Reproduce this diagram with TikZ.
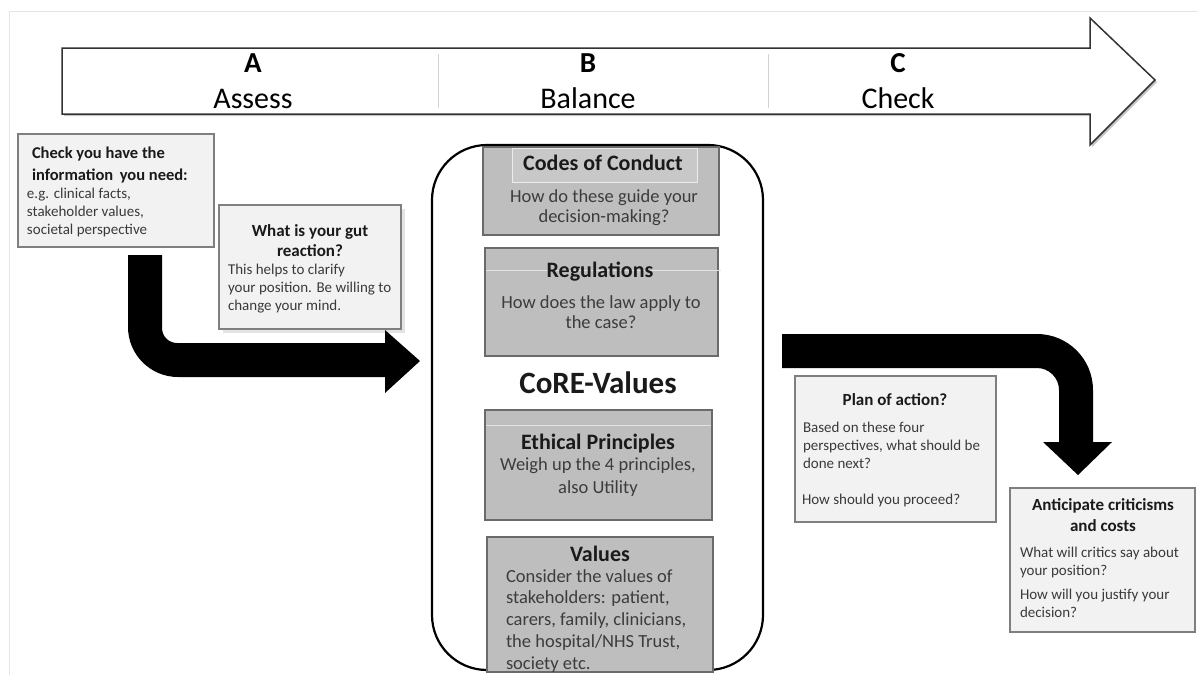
\documentclass[tikz,border=0pt]{standalone}
\usepackage{fontspec}
\setmainfont{Carlito}
\usetikzlibrary{fit}
\definecolor{lightfill}{HTML}{F2F2F2}
\definecolor{lightborder}{HTML}{7F7F7F}
\definecolor{darkfill}{HTML}{BEBEBE}
\definecolor{darkborder}{HTML}{6A6A6A}
\definecolor{headtext}{HTML}{1A1A1A}
\definecolor{bodytext}{HTML}{3A3A3A}
\newcommand\myfs[2]{\fontsize{#1}{#2}\selectfont}
\begin{document}
\begin{tikzpicture}[x=1pt,y=-1pt,
  lightbox/.style={draw=lightborder, fill=lightfill, line width=1.4pt, inner sep=0pt},
  darkbox/.style={draw=darkborder, fill=darkfill, line width=1.4pt, inner sep=0pt},
  txt/.style={inner sep=0pt, outer sep=0pt},
  smallhead/.style={txt, text=headtext, font=\bfseries\myfs{16.5}{22}},
  smallbody/.style={txt, text=bodytext, font=\myfs{15}{18}},
  bighead/.style={txt, text=headtext, font=\bfseries\myfs{22}{24}},
  bigbody/.style={txt, text=headtext!85, font=\myfs{18.5}{20}},
  toplabel/.style={txt, text=black, font=\myfs{30}{32}},
  blackarrow/.style={fill=black}
]
\useasboundingbox (0,0) rectangle (1198,675);
\fill[white] (0,0) rectangle (1198,675);
\draw[gray!20, line width=1pt] (9,675) -- (9,11) -- (1198,11);

% ---- top process arrow ----
\begin{scope}[shift={(2,2)}]
  \fill[gray!45] (62,48) -- (1090,48) -- (1090,18) -- (1155,80) -- (1090,145) -- (1090,114) -- (62,114) -- cycle;
\end{scope}
\draw[fill=white, draw=black!80, line width=1.5pt, line join=miter]
  (62,48) -- (1090,48) -- (1090,18) -- (1155,80) -- (1090,145) -- (1090,114) -- (62,114) -- cycle;
\draw[gray!35, line width=0.8pt] (438,54) -- (438,108);
\draw[gray!35, line width=0.8pt] (768,54) -- (768,108);
\node[toplabel, anchor=base, font=\bfseries\myfs{29}{30}] (lA) at (253,72) {A};
\node[toplabel, anchor=base] (lAssess) at (253,108) {Assess};
\node[toplabel, anchor=base, font=\bfseries\myfs{29}{30}] (lB) at (588,72) {B};
\node[toplabel, anchor=base] (lBalance) at (588,108) {Balance};
\node[toplabel, anchor=base, font=\bfseries\myfs{29}{30}] (lC) at (898,72) {C};
\node[toplabel, anchor=base] (lCheck) at (898,108) {Check};

% ---- Assess boxes ----
\node[lightbox, fit={(18,134)(214,247)}] (info) {};
\node[smallhead, anchor=base west, align=left] (infoH) at (32,180) {Check you have the\\information\, you need:};
\node[smallbody, anchor=base west, align=left] (infoB) at (27,234) {e.g. clinical facts,\\stakeholder values,\\societal perspective};

\fill[gray!22] (223,209) rectangle (405,333);
\node[lightbox, fit={(219,205)(401,329)}] (gut) {};
\node[smallhead, anchor=base, align=center, font=\bfseries\myfs{17}{20}] (gutH) at (310,256) {What is your gut\\reaction?};
\node[smallbody, anchor=base west, align=left] (gutB) at (228,310) {This helps to clarify\\your position. Be willing to\\change your mind.};

% left black arrow
\fill[blackarrow] (128,255) -- (162,255) -- (162,328)
  .. controls (162,336.3) and (168.7,343) .. (177,343)
  -- (385,343) -- (385,330) -- (420,361) -- (385,393) -- (385,377) -- (178,377)
  .. controls (150.4,377) and (128,354.6) .. (128,327) -- cycle;

% ---- Balance container ----
\node[draw=black, line width=2.2pt, rounded corners=55pt, inner sep=0pt, fit={(432,145)(763,670)}] (container) {};

\node[darkbox, fit={(483,147)(719,235)}] (codes) {};
\draw[white!70!darkfill, fill=white!15!darkfill, line width=0.8pt] (512,148) rectangle (697,182);
\node[bighead, anchor=base] (codesH) at (603,170) {Codes of Conduct};
\node[bigbody, anchor=base, align=center] (codesB) at (604,222) {How do these guide your\\decision-making?};

\node[darkbox, fit={(485,248)(718,356)}] (regs) {};
\draw[white!55!darkfill, line width=0.8pt] (486,270) -- (721,270);
\node[bighead, anchor=base] (regsH) at (600,277) {Regulations};
\node[bigbody, anchor=base, align=center] (regsB) at (601,328) {How does the law apply to\\the case?};

\node[txt, anchor=base, text=headtext, font=\bfseries\myfs{31}{32}] (core) at (598,393) {CoRE-Values};

\node[darkbox, fit={(485,410)(712,520)}] (ethics) {};
\draw[white!55!darkfill, line width=0.8pt] (486,425) -- (711,425);
\node[bighead, anchor=base] (ethicsH) at (598,449) {Ethical Principles};
\node[bigbody, anchor=base, align=center, font=\myfs{18.5}{23}] (ethicsB) at (598,493) {Weigh up the 4 principles,\\also Utility};

\node[darkbox, fit={(487,537)(713,672)}] (vals) {};
\node[bighead, anchor=base] (valsH) at (600,561) {Values};
\node[bigbody, anchor=base west, align=left, font=\myfs{18.5}{21.7}] (valsB) at (506,669) {Consider the values of\\stakeholders: patient,\\carers, family, clinicians,\\the hospital/NHS Trust,\\society etc.};

% ---- Check side ----
\fill[blackarrow] (782,334) -- (1037,334)
  .. controls (1067.9,334) and (1093,359.1) .. (1093,390)
  -- (1093,442) -- (1112,442) -- (1078,475) -- (1043,442) -- (1059,442) -- (1059,390)
  .. controls (1059,377.9) and (1049.1,368) .. (1037,368)
  -- (782,368) -- cycle;

\node[lightbox, fit={(795,376)(996,522)}] (plan) {};
\node[smallhead, anchor=base, font=\bfseries\myfs{17}{20}] (planH) at (895,405) {Plan of action?};
\node[smallbody, anchor=base west, align=left] (planB) at (803,468) {Based on these four\\perspectives, what should be\\done next?};
\node[smallbody, anchor=base west] (planB2) at (802,504) {How should you proceed?};

\node[lightbox, fit={(1010,488)(1195,632)}] (crit) {};
\node[smallhead, anchor=base, align=center, font=\bfseries\myfs{17}{21}] (critH) at (1103,531) {Anticipate criticisms\\and costs};
\node[smallbody, anchor=base west, align=left] (critB) at (1020,575) {What will critics say about\\your position?};
\node[smallbody, anchor=base west, align=left] (critB2) at (1020,617) {How will you justify your\\decision?};
\end{tikzpicture}
\end{document}
